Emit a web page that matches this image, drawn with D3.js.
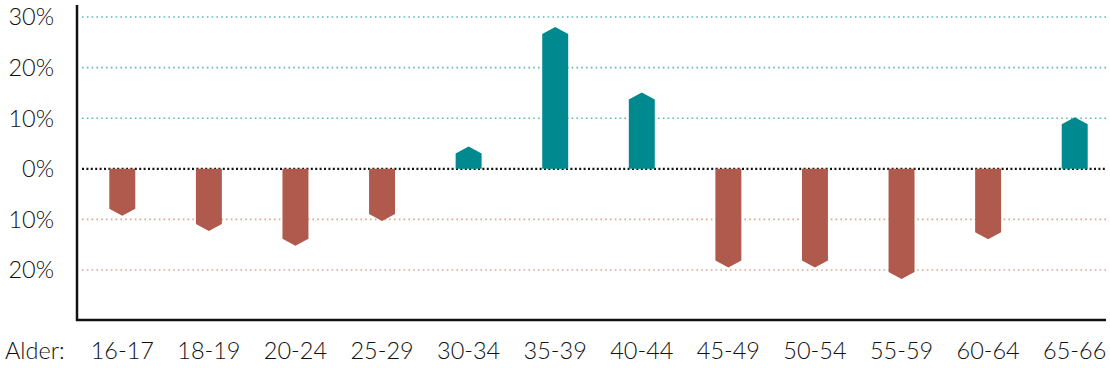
<!DOCTYPE html>
<html><head><meta charset="utf-8">
<script src="https://cdn.jsdelivr.net/npm/d3@7"></script>
<style>body{margin:0;background:#fff;}svg{display:block;}text{font-family:Lato,sans-serif;font-weight:300;fill:#111;}</style>
</head><body><svg id="c" width="1110" height="368"></svg>
<script>
const categories = ["16-17","18-19","20-24","25-29","30-34","35-39","40-44","45-49","50-54","55-59","60-64","65-66"];
const values = [-9.3,-12.3,-15.2,-10.3,4.4,28.0,15.1,-19.5,-19.5,-21.8,-13.9,10.2];
const yTicks = [30,20,10,0,-10,-20];
const yTickLabels = ["30%","20%","10%","0%","10%","20%"];
const xTitle = "Alder:";

const svg = d3.select("#c");
const x = d3.scaleBand().domain(categories).range([79, 1118]).paddingInner(0.7).paddingOuter(0.35);
const y = d3.scaleLinear().domain([-20, 30]).range([270, 17]);
const axisLeft = 77, axisBottom = 320, right = 1106;

// gridlines
yTicks.forEach(t => {
  svg.append("line").attr("x1", axisLeft + 5).attr("x2", right).attr("y1", y(t)).attr("y2", y(t))
    .attr("stroke", t > 0 ? "#5fb9bd" : t < 0 ? "#dfa58f" : "#111")
    .attr("stroke-width", t === 0 ? 2.2 : 1.6)
    .attr("stroke-dasharray", t === 0 ? "2,2.4" : "1.6,3.2");
});

// bars with pointed tips
const tip = 7;
svg.append("g").selectAll("path").data(categories).join("path")
  .attr("fill", (d, i) => values[i] >= 0 ? "#008a90" : "#b05a4e")
  .attr("d", (d, i) => {
    const v = values[i], x0 = x(d), x1 = x0 + x.bandwidth(), xm = x0 + x.bandwidth() / 2;
    const y0 = y(0), yt = y(v), s = v >= 0 ? 1 : -1;
    const ys = yt + s * tip;
    return `M${x0},${y0}L${x0},${ys}L${xm},${yt}L${x1},${ys}L${x1},${y0}Z`;
  });

// axes lines
svg.append("line").attr("x1", axisLeft).attr("x2", axisLeft).attr("y1", 5).attr("y2", axisBottom + 1).attr("stroke", "#111").attr("stroke-width", 2.5);
svg.append("line").attr("x1", axisLeft - 1).attr("x2", right).attr("y1", axisBottom).attr("y2", axisBottom).attr("stroke", "#111").attr("stroke-width", 2.5);

// y labels
svg.append("g").selectAll("text").data(yTicks).join("text")
  .attr("x", 54).attr("y", t => y(t)).attr("dy", "0.36em").attr("text-anchor", "end")
  .attr("font-size", 23.5).text((t, i) => yTickLabels[i]);

// x labels
svg.append("g").selectAll("text").data(categories).join("text")
  .attr("x", d => x(d) + x.bandwidth() / 2).attr("y", 359).attr("text-anchor", "middle")
  .attr("font-size", 23.5).text(d => d);
svg.append("text").attr("x", 5).attr("y", 359).attr("font-size", 23.5).text(xTitle);
</script></body></html>
